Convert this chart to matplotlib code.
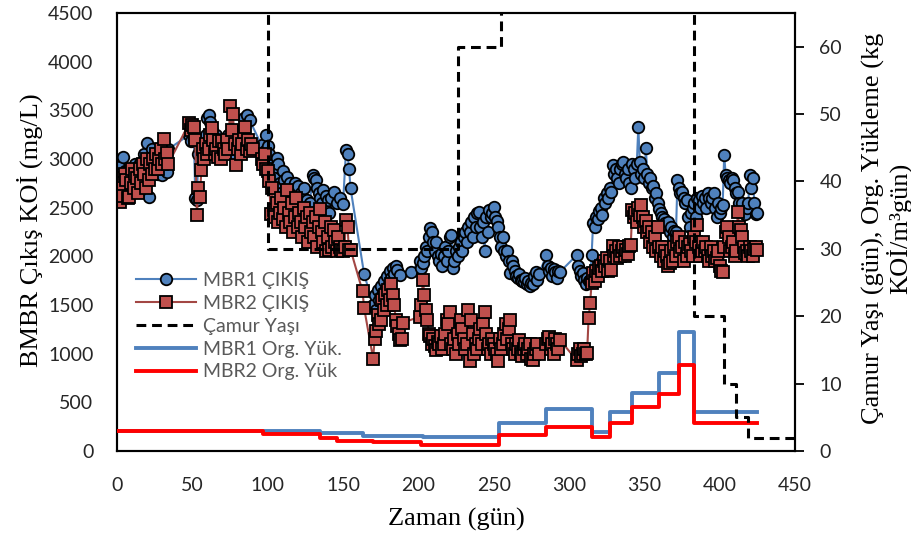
import matplotlib
matplotlib.use("Agg")
import matplotlib.pyplot as plt
from matplotlib.lines import Line2D

# ---------------------------------------------------------------- data
# Effluent COD (mg/L) of the two reactors, sampled by day
mbr1_days = (list(range(0, 35)) + list(range(48, 69)) + list(range(70, 89, 2))
             + [96] + list(range(98, 123)) + [124, 126, 128] + list(range(130, 143))
             + [144, 146, 148, 150] + list(range(152, 156))
             + [164] + list(range(170, 187)) + [188, 195]
             + list(range(201, 281)) + list(range(285, 295)) + list(range(305, 426)))
mbr1_cod = [
    2780, 2920, 2850, 2750, 3020, 2880, 2700, 2820, 2900, 2760,
    2850, 2800, 2950, 2700, 2880, 2960, 2680, 2900, 3050, 2820,
    3160, 2610, 2980, 3100, 2900, 3050, 2950, 2850, 3000, 2940,
    2840, 3080, 2900, 2870, 3100,
    3250, 3180, 3320, 3200, 2600, 2580, 3050, 3100, 3000, 3150,
    3050, 3250, 3420, 3450, 3380, 3300, 3150, 3200, 3250, 3100, 3050,
    3200, 3100, 3250, 3050, 3200, 3150, 3300, 3420, 3450, 3400,
    3140,
    3080, 3250, 3130, 3050, 2950, 2900, 2800, 2700, 3010, 2950,
    2750, 2650, 2880, 2780, 2700, 2820, 2600, 2750, 2550, 2680,
    2750, 2600, 2720, 2500, 2650,
    2700, 2580, 2550,
    2840, 2800, 2780, 2700, 2650, 2600, 2550, 2680, 2500, 2620, 2580, 2450, 2600,
    2660, 2550, 2600, 2540,
    3090, 3050, 2900, 2700,
    1820,
    1500, 1600, 1450, 1650, 1550, 1700, 1600, 1750, 1650, 1800,
    1700, 1850, 1780, 1880, 1820, 1900, 1860,
    1810, 1840,
    1950, 1880, 1930, 2000, 2100, 2050, 2200, 2290, 2250, 2150,
    2050, 2150, 2000, 1950, 2020, 1900, 2000, 2100, 1950, 2050,
    2200, 2220, 1880, 1950, 2050, 2000, 2100, 2150, 2050, 2200,
    2250, 2150, 2300, 2250, 2350, 2200, 2400, 2300, 2450, 2460,
    2300, 2200, 2350, 2050, 2400, 2250, 2480, 2400, 2450, 2510,
    2400, 2360, 2300, 2200, 2100, 2200, 2050, 2000, 2050, 1950,
    1830, 1950, 1900, 1850, 1800, 1780, 1820, 1760, 1750, 1740,
    1780, 1720, 1750, 1700, 1730, 1720, 1800, 1840, 1760, 1820,
    2010, 1900, 1850, 1880, 1800, 1870, 1840, 1780, 1850, 1840,
    2010, 1900, 1850, 1800, 1830, 1760, 1720, 1780, 1750, 1760,
    2010, 2340, 2300, 2400, 2380, 2470, 2500, 2420, 2600, 2550,
    2650, 2600, 2700, 2660, 2940, 2850, 2900, 2800, 2750, 2900,
    2950, 2970, 2850, 2800, 2900, 2750, 2700, 2950, 2900, 2800,
    2950, 3330, 2970, 2850, 2900, 2800, 3110, 2850, 2750, 2800,
    2700, 2720, 2600, 2650, 2550, 2490, 2450, 2400, 2380, 2340,
    2300, 2350, 2250, 2300, 2200, 2260, 2250, 2780, 2700, 2650,
    2660, 2600, 2550, 2580, 2400, 2300, 2450, 2500, 2550, 2400,
    2600, 2580, 2500, 2620, 2550, 2600, 2500, 2650, 2600, 2550,
    2600, 2650, 2500, 2400, 2550, 2450, 2500, 2530, 3040, 2840,
    2800, 2780, 2750, 2800, 2780, 2700, 2650, 2660, 2550, 2500,
    2550, 2450, 2440, 2500, 2550, 2840, 2700, 2800, 2550, 2430,
    2450,
]

mbr2_days = (list(range(0, 35)) + list(range(48, 91)) + list(range(96, 156))
             + [163, 164] + list(range(170, 191))
             + list(range(201, 281)) + list(range(285, 295)) + list(range(305, 426)))
mbr2_cod = [
    2800, 2750, 2560, 2700, 2620, 2850, 2780, 2600, 2610, 2750,
    2900, 2700, 2850, 2800, 2650, 2900, 2750, 2950, 2850, 2700,
    3000, 2780, 2950, 2850, 3000, 2900, 3050, 2900, 3000, 3100,
    2950, 3210, 3000, 3060, 2950,
    3370, 3300, 3350, 3330, 3200, 2420, 2700, 2610, 2890, 3100,
    3000, 3150, 3050, 3100, 3250, 3320, 3200, 3050, 3100, 3020,
    3180, 3000, 3180, 3100, 3050, 3200, 3100, 3540, 3300, 3460,
    3150, 2940, 3100, 3200, 3050, 3150, 3280, 3330, 3100, 3200,
    3080, 3150, 3100,
    3000, 2950, 3050, 2900, 2880, 2770, 2440, 2700, 2480, 2400,
    2550, 2350, 2450, 2600, 2380, 2500, 2300, 2680, 2450, 2350,
    2550, 2250, 2400, 2600, 2300, 2450, 2350, 2200, 2500, 2300,
    2400, 2150, 2450, 2250, 2350, 2200, 2400, 2100, 2300, 2490,
    2250, 2150, 2350, 2050, 2200, 2070, 2300, 2100, 2270, 2150,
    2050, 2200, 2100, 2070, 2050, 2100, 2370, 2300, 2060, 2070,
    1640, 1470,
    950, 1150, 1230, 1400, 1300, 1350, 1550, 1450, 1600, 1500,
    1650, 1550, 1720, 1600, 1500, 1350, 1280, 1200, 1140, 1150, 1320,
    1380, 1500, 1760, 1600, 1450, 1350, 1200, 1180, 1100, 1150,
    1080, 1040, 1120, 1100, 1180, 1050, 1100, 1200, 1350, 1300,
    1430, 1100, 1050, 1150, 1000, 1200, 1100, 1350, 1250, 1150,
    1050, 1100, 1450, 920, 1350, 1200, 1000, 1100, 1050, 1150,
    1250, 1100, 1300, 1430, 1200, 1050, 1100, 1000, 1150, 1100,
    1050, 1000, 920, 1150, 1050, 1100, 1200, 1300, 1150, 1250,
    1350, 1100, 1050, 1000, 1100, 1050, 1140, 1000, 980, 1050,
    1100, 1000, 1050, 1100, 950, 935, 1000, 1050, 1100, 1000,
    1100, 1150, 1175, 1050, 1100, 1000, 1150, 1100, 1050, 1140,
    935, 1000, 1050, 980, 1000, 1050, 1000, 1003, 1363, 1517,
    1723, 1830, 1750, 1850, 1800, 1880, 1900, 1850, 1950, 1900,
    1980, 1850, 1950, 1860, 2110, 2000, 2050, 1980, 2100, 2000,
    2050, 2100, 2000, 2060, 2020, 2110, 2120, 2480, 2400, 2450,
    2350, 2500, 2420, 2530, 2400, 2300, 2360, 2250, 2300, 2150,
    2250, 2100, 2200, 2050, 2300, 2100, 2000, 2100, 1950, 2050,
    2000, 1900, 1930, 2050, 1950, 2100, 2000, 2150, 2200, 2050,
    2100, 1950, 2150, 2000, 2100, 2130, 2050, 2000, 2200, 2150,
    2320, 2100, 2000, 2050, 2150, 2050, 2100, 2000, 1950, 2100,
    2000, 2050, 1950, 1980, 2050, 1900, 1850, 1840, 2100, 2250,
    2300, 2200, 2050, 2100, 2150, 2000, 2050, 2460, 2300, 2270,
    2200, 2100, 2030, 2050, 2000, 2100, 2050, 2000, 2080, 2100,
    2060,
]

# Sludge age (days); 100 stands for the no-wastage periods above the scale
sludge_days = [0, 100, 226, 255, 383, 403, 411, 419, 450]
sludge_age = [100, 30, 60, 100, 20, 10, 5, 2, 2]

# Organic loading rate (kg COD/m3.day), piecewise constant
olr1_days = [0, 97, 135, 163, 203, 253.5, 285, 315, 327.5, 342, 360, 373, 383, 425]
olr1 = [3.0, 3.0, 2.6, 2.3, 2.1, 4.1, 6.3, 2.8, 5.8, 8.6, 11.6, 17.6, 5.8, 5.8]
olr2_days = [0, 97, 135, 146, 170, 202, 253.5, 285, 315, 327.5, 342, 360, 373, 383, 425]
olr2 = [3.0, 2.47, 1.9, 1.5, 1.3, 0.84, 2.37, 3.5, 2.1, 4.2, 6.5, 8.5, 12.8, 4.2, 4.2]

labels = ["MBR1 ÇIKIŞ", "MBR2 ÇIKIŞ", "Çamur Yaşı", "MBR1 Org. Yük.", "MBR2 Org. Yük"]
x_ticks = [0, 50, 100, 150, 200, 250, 300, 350, 400, 450]
left_ticks = [0, 500, 1000, 1500, 2000, 2500, 3000, 3500, 4000, 4500]
right_ticks = [0, 10, 20, 30, 40, 50, 60]

# ---------------------------------------------------------------- style
BLUE = "#4F81BD"
RED_FILL = "#C0504D"
RED_LINE = "#A34744"
SANS = ["Lato", "DejaVu Sans"]
SERIF = ["Liberation Serif", "DejaVu Serif"]
TICK_COLOR = "#262626"
MS = 8.3

W, H = 912, 543
fig = plt.figure(figsize=(W / 100, H / 100), dpi=100)
ax = fig.add_axes([117 / W, 1 - 451 / H, (795 - 117) / W, (451 - 13) / H])
ax2 = ax.twinx()

ax.plot(mbr1_days, mbr1_cod, color=BLUE, lw=1.5, marker="o", ms=MS,
        mfc=BLUE, mec="black", mew=1.3, zorder=2)
ax.plot(mbr2_days, mbr2_cod, color=RED_LINE, lw=1.5, marker="s", ms=MS - 0.3,
        mfc=RED_FILL, mec="black", mew=1.3, zorder=3)

ax2.plot(olr1_days, olr1, drawstyle="steps-post", color=BLUE, lw=2.8, zorder=2)
ax2.plot(olr2_days, olr2, drawstyle="steps-post", color="#FF0000", lw=2.8, zorder=3)
ax2.plot(sludge_days, sludge_age, drawstyle="steps-post", color="black", lw=2.2,
         dashes=(3.2, 1.9), zorder=4)

ax.set_xlim(0, 450)
ax.set_ylim(0, 4500)
ax2.set_ylim(0, 65)
ax.set_xticks(x_ticks)
ax.set_yticks(left_ticks)
ax2.set_yticks(right_ticks)

for a in (ax, ax2):
    for s in a.spines.values():
        s.set_linewidth(1.5)
        s.set_color("black")

ax.tick_params(axis="x", length=0, pad=19, labelsize=14, labelcolor=TICK_COLOR)
ax.tick_params(axis="y", length=0, pad=17, labelsize=14, labelcolor=TICK_COLOR)
ax2.tick_params(axis="y", length=6.5, width=1.3, pad=11, labelsize=14,
                labelcolor=TICK_COLOR, direction="out")
for lab in ax.get_xticklabels() + ax.get_yticklabels() + ax2.get_yticklabels():
    lab.set_fontfamily(SANS)

# axis titles
fig.text(456 / W, 1 - 519 / H, "Zaman (gün)", family=SERIF, fontsize=19,
         ha="center", va="center")
fig.text(30 / W, 1 - 230 / H, "BMBR Çıkış KOİ (mg/L)", family=SERIF, fontsize=19,
         rotation=90, ha="center", va="center")
fig.text(887 / W, 1 - 228 / H, "Çamur Yaşı (gün), Org. Yükleme (kg\nKOİ/m³gün)",
         family=SERIF, fontsize=19, rotation=90, ha="center", va="center",
         multialignment="center", linespacing=1.0)

handles = [
    Line2D([], [], color=BLUE, lw=1.5, marker="o", ms=MS, mfc=BLUE, mec="black", mew=1.3),
    Line2D([], [], color=RED_LINE, lw=1.5, marker="s", ms=MS - 0.3, mfc=RED_FILL,
           mec="black", mew=1.3),
    Line2D([], [], color="black", lw=2.2, dashes=(3.2, 1.9)),
    Line2D([], [], color=BLUE, lw=2.8),
    Line2D([], [], color="#FF0000", lw=2.8),
]
leg = ax2.legend(handles, labels, loc="upper left",
                 bbox_to_anchor=(136 / W, 1 - 272 / H), bbox_transform=fig.transFigure,
                 frameon=False, borderpad=0, borderaxespad=0, handlelength=3.1,
                 handletextpad=0.35, labelspacing=0.3,
                 prop={"family": SANS, "size": 14})
for t in leg.get_texts():
    t.set_color("#595959")
leg.set_zorder(10)

fig.savefig("out.png", dpi=100)
